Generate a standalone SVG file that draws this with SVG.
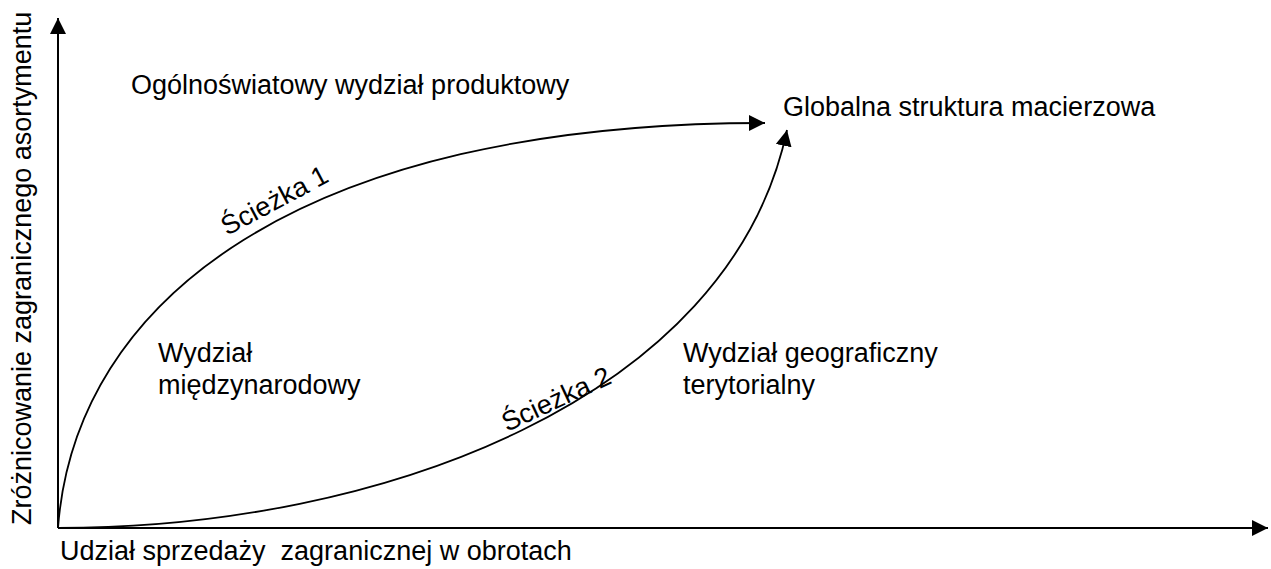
<svg xmlns="http://www.w3.org/2000/svg" width="1271" height="569" viewBox="0 0 1271 569">
<style>
text{font-family:"Liberation Sans",Arial,sans-serif;font-size:27px;fill:#000;white-space:pre}
.ax{stroke:#000;stroke-width:2;fill:none}
.cv{stroke:#000;stroke-width:1.8;fill:none}
</style>
<defs>
<marker id="ah" viewBox="0 0 10 10" refX="10" refY="5" markerWidth="16" markerHeight="16" markerUnits="userSpaceOnUse" orient="auto">
<path d="M0,0 L10,5 L0,10 z" fill="#000"/>
</marker>
</defs>
<rect width="1271" height="569" fill="#fff"/>
<g id="connectors">
<path id="y-axis" class="ax" d="M58,528 L58,18" marker-end="url(#ah)"/>
<path id="x-axis" class="ax" d="M58,528 L1268,528" marker-end="url(#ah)"/>
<path id="path1" class="cv" d="M58,528 C75,300 300,123 765,123" marker-end="url(#ah)"/>
<path id="path2" class="cv" d="M58,528 C380,528 730,400 787,130" marker-end="url(#ah)"/>
</g>
<g id="axis-labels">
<text id="ylabel" transform="translate(31,525) rotate(-90)">Zróżnicowanie zagranicznego asortymentu</text>
<text id="xlabel" x="60" y="560" xml:space="preserve">Udział sprzedaży  zagranicznej w obrotach</text>
</g>
<g id="node-worldwide"><text x="131" y="94">Ogólnoświatowy wydział produktowy</text></g>
<g id="node-matrix"><text x="783" y="116">Globalna struktura macierzowa</text></g>
<g id="node-international"><text x="158" y="362">Wydział</text><text x="158" y="394">międzynarodowy</text></g>
<g id="node-geographic"><text x="683" y="362">Wydział geograficzny</text><text x="683" y="394">terytorialny</text></g>
<g id="label-path1"><text transform="translate(227,236) rotate(-28)">Ścieżka 1</text></g>
<g id="label-path2"><text transform="translate(507,432) rotate(-25)">Ścieżka 2</text></g>
</svg>
